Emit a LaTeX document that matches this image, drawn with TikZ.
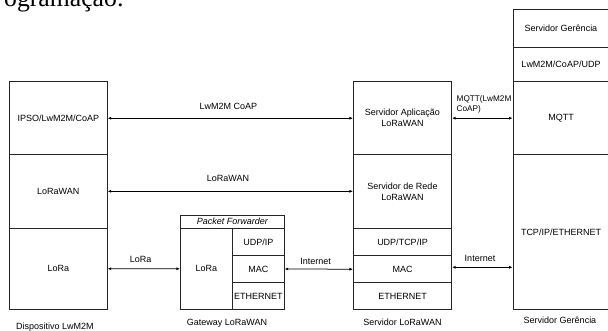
\documentclass[tikz,border=0pt]{standalone}
\usepackage{fontspec}
\setmainfont{Liberation Sans}
\newfontfamily\serifdoc{Liberation Serif}
\usetikzlibrary{arrows.meta}
\begin{document}
\begin{tikzpicture}[x=1pt,y=-1pt,
  lay/.style 2 args={draw=black!85, line width=0.75pt, inner sep=0pt, align=center,
    minimum width=#1, minimum height=#2, font=\fontsize{9}{11}\selectfont},
  lbl/.style={inner sep=0pt, align=center, font=\fontsize{9}{11}\selectfont},
  arr/.style={line width=0.75pt, {Latex[length=3.5pt,width=3pt]}-{Latex[length=3.5pt,width=3pt]}}
]
\useasboundingbox (0,0) rectangle (608,331);
\clip (0,0) rectangle (608,331);
% cut-off document text
\node[anchor=base west, inner sep=0pt, font=\serifdoc\fontsize{25.7}{30}\selectfont] (doc) at (4,6.5) {ogramação:};

% Dispositivo LwM2M
\node[lay={98pt}{73pt}] (d1) at (58.3,118.2) {IPSO/LwM2M/CoAP};
\node[lay={98pt}{73.3pt}] (d2) at (58.3,191.3) {LoRaWAN};
\node[lay={98pt}{81.3pt}] (d3) at (58.3,268.7) {LoRa};
\node[lbl] (dcap) at (55,327) {Dispositivo LwM2M};

% Gateway
\node[lay={104pt}{13.3pt}, font=\itshape\fontsize{9}{11}\selectfont] (gh) at (232.3,221.7) {Packet Forwarder};
\node[lay={52pt}{81pt}] (gl) at (206.3,268.8) {LoRa};
\node[lay={52pt}{27pt}] (gu) at (258.3,241.8) {UDP/IP};
\node[lay={52pt}{27.4pt}] (gm) at (258.3,269) {MAC};
\node[lay={52pt}{26.6pt}] (ge) at (258.3,296) {ETHERNET};
\node[lbl] (gcap) at (227,323.3) {Gateway LoRaWAN};

% Servidor LoRaWAN
\node[lay={98.4pt}{73pt}] (s1) at (402.5,118.2) {Servidor Aplicação\\LoRaWAN};
\node[lay={98.4pt}{73.3pt}] (s2) at (402.5,191.3) {Servidor de Rede\\LoRaWAN};
\node[lay={98.4pt}{27.7pt}] (s3) at (402.5,241.8) {UDP/TCP/IP};
\node[lay={98.4pt}{27pt}] (s4) at (402.5,269.2) {MAC};
\node[lay={98.4pt}{26.6pt}] (s5) at (402.5,296) {ETHERNET};
\node[lbl] (scap) at (402.5,322.3) {Servidor LoRaWAN};

% Servidor Gerencia
\node[lay={96pt}{38pt}] (g1) at (561,28.3) {Servidor Gerência};
\node[lay={96pt}{33.7pt}] (g2) at (561,64.2) {LwM2M/CoAP/UDP};
\node[lay={96pt}{73.7pt}] (g3) at (561,117.8) {MQTT};
\node[lay={96pt}{154.6pt}] (g4) at (561,232) {TCP/IP/ETHERNET};
\node[lbl] (gecap) at (560,320.7) {Servidor Gerência};

% connectors
\draw[arr] (d1.east) -- (s1.west);
\node[lbl] (l1) at (228.3,106) {LwM2M CoAP};
\draw[arr] (d2.east) -- (s2.west);
\node[lbl] (l2) at (228,178.3) {LoRaWAN};
\draw[arr] (d3.east) -- (gl.west);
\node[lbl] (l3) at (140.7,259) {LoRa};
\draw[arr] (gm.east) -- (s4.west);
\node[lbl] (l4) at (315.7,261.7) {Internet};
\draw[arr] (s1.east) -- (s1.east -| g3.west);
\node[anchor=north west, inner sep=0pt, align=left, font=\fontsize{8.2}{9.5}\selectfont] (l5) at (456.5,95.5) {MQTT(LwM2M\\CoAP)};
\draw[arr] (s4.east) ++(0,-1.9) coordinate (s4o) -- (s4o -| g4.west);
\node[lbl] (l6) at (480,258.3) {Internet};
\end{tikzpicture}
\end{document}
